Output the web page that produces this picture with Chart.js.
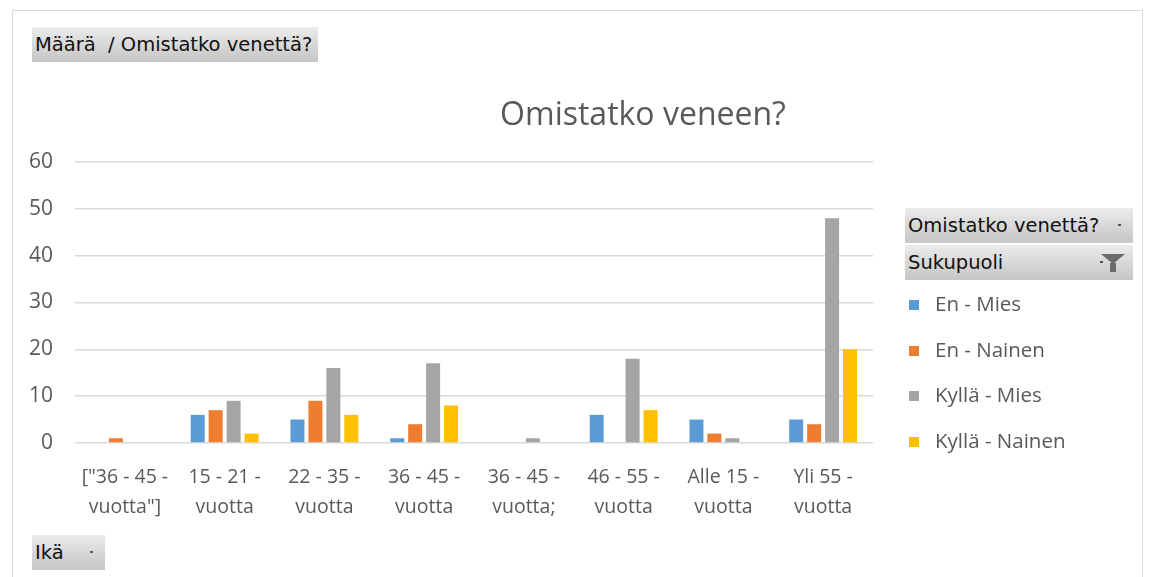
<!DOCTYPE html>
<html>
<head>
<meta charset="utf-8">
<script src="https://cdn.jsdelivr.net/npm/chart.js@4.4.1/dist/chart.umd.min.js"></script>
<style>
    body { margin: 0; background: #fff; }
    #wrap { position: relative; width: 1157px; height: 577px; overflow: hidden; }
    #frame { position: absolute; left: 12px; top: 10px; width: 1131px; height: 600px; border: 1px solid #d9d9d9; box-sizing: border-box; }
    canvas { position: absolute; left: 0; top: 0; }
    .btn {
        position: absolute; height: 35px; line-height: 35px; padding-left: 3px;
        background: linear-gradient(#ececec, #d4d4d4 60%, #c6c6c6);
        font-family: "DejaVu Sans", sans-serif;
        font-size: 19.5px; color: #111; box-sizing: border-box; white-space: nowrap;
    }
    .drop { position: absolute; right: 12px; top: 16px; width: 3px; height: 2px; background: #555; }
    #chartTitle { position: absolute; left: 443px; width: 400px; top: 93px; line-height: 40px; text-align: center;
        font-family: "Open Sans", sans-serif; font-size: 32px; color: #595959; }
    #legend { position: absolute; left: 909px; top: 290px; font-family: "Open Sans", sans-serif; font-size: 20.5px; color: #595959; }
    #legend div { height: 45.7px; line-height: 26px; white-space: nowrap; }
    #legend span { display: inline-block; width: 10px; height: 10px; margin-right: 16px; vertical-align: 1px; }
    .funnel { position: absolute; right: 8px; top: 9px; width: 0; height: 0;
        border-left: 12px solid transparent; border-right: 12px solid transparent; border-top: 10px solid #6b6b6b; }
    .stem { position: absolute; right: 17px; top: 18px; width: 6px; height: 9px; background: #6b6b6b; }
</style>
</head>
<body>
<div id="wrap">
    <div id="frame"></div>
    <canvas id="chart" width="1157" height="577"></canvas>
    <div id="chartTitle">Omistatko veneen?</div>
    <div class="btn" style="left:32px; top:27px; width:286px;">Määrä &nbsp;/ Omistatko venettä?</div>
    <div class="btn" style="left:905px; top:208px; width:228px;">Omistatko venettä?<div class="drop"></div></div>
    <div class="btn" style="left:905px; top:245px; width:228px;">Sukupuoli<div class="drop" style="right:30px;"></div><div class="funnel"></div><div class="stem"></div></div>
    <div class="btn" style="left:32px; top:535px; width:73px;">Ikä<div class="drop"></div></div>
    <div id="legend"></div>
</div>
<script>
const categories = [
    ['["36 - 45 -', 'vuotta"]'],
    ['15 - 21 -', 'vuotta'],
    ['22 - 35 -', 'vuotta'],
    ['36 - 45 -', 'vuotta'],
    ['36 - 45 -', 'vuotta;'],
    ['46 - 55 -', 'vuotta'],
    ['Alle 15 -', 'vuotta'],
    ['Yli 55 -', 'vuotta']
];
const seriesNames = ['En - Mies', 'En - Nainen', 'Kyllä - Mies', 'Kyllä - Nainen'];
const enMies = [0, 6, 5, 1, 0, 6, 5, 5];
const enNainen = [1, 7, 9, 4, 0, 0, 2, 4];
const kyllaMies = [0, 9, 16, 17, 1, 18, 1, 48];
const kyllaNainen = [0, 2, 6, 8, 0, 7, 0, 20];
const seriesColors = ['#5b9bd5', '#ed7d31', '#a5a5a5', '#ffc000'];
const yTicks = [0, 10, 20, 30, 40, 50, 60];

const seriesValues = [enMies, enNainen, kyllaMies, kyllaNainen];
const textColor = '#595959';

const chart = new Chart(document.getElementById('chart').getContext('2d'), {
    type: 'bar',
    data: {
        labels: categories,
        datasets: seriesNames.map((name, i) => ({
            label: name,
            data: seriesValues[i],
            backgroundColor: seriesColors[i],
            barPercentage: 0.78,
            categoryPercentage: 0.72
        }))
    },
    options: {
        responsive: false,
        animation: false,
        // note: chart.js counts tick padding twice when sizing the axes
        layout: { padding: { left: 7, right: 284, top: 162, bottom: 44 } },
        plugins: { legend: { display: false }, title: { display: false }, tooltip: { enabled: false } },
        scales: {
            x: {
                grid: { display: false },
                border: { display: false },
                ticks: {
                    color: textColor, padding: 11, maxRotation: 0, autoSkip: false,
                    font: { family: 'Open Sans', size: 19.5, lineHeight: 1.54 }
                }
            },
            y: {
                min: 0, max: 60,
                afterBuildTicks: axis => { axis.ticks = yTicks.map(v => ({ value: v })); },
                grid: { color: '#d9d9d9', drawTicks: false, lineWidth: 1.5 },
                border: { display: false },
                ticks: { color: textColor, padding: 22, font: { family: 'Open Sans', size: 21 } }
            }
        }
    }
});

// legend from the datasets
const legend = document.getElementById('legend');
chart.data.datasets.forEach(ds => {
    const row = document.createElement('div');
    row.innerHTML = '<span style="background:' + ds.backgroundColor + '"></span>' + ds.label;
    legend.appendChild(row);
});
</script>
</body>
</html>
